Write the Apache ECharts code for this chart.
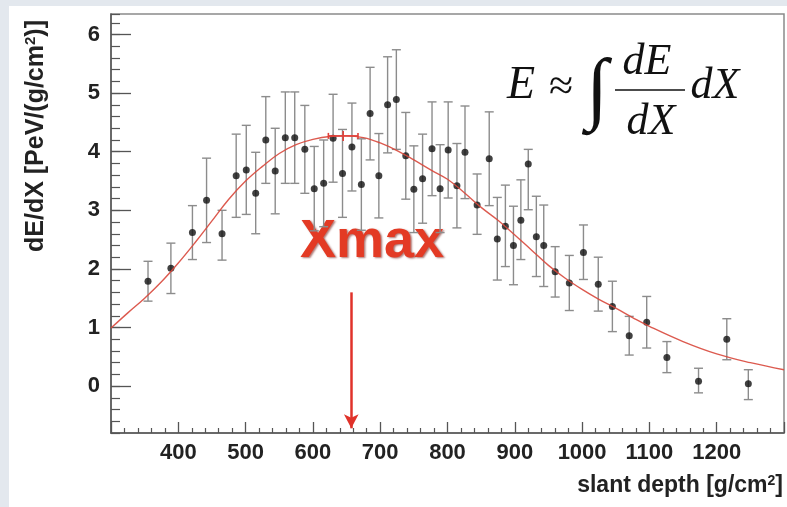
<!DOCTYPE html>
<html>
<head>
<meta charset="utf-8">
<script src="https://cdn.jsdelivr.net/npm/echarts@6/dist/echarts.min.js"></script>
<style>
  html, body { margin: 0; padding: 0; background: #ffffff; }
  #chart { width: 787px; height: 507px; }
</style>
</head>
<body>
<div id="chart"></div>
<script>
// Measured energy deposit profile of an air shower
const depth = [355, 389, 421, 442, 465, 486, 501, 515, 530, 544, 559, 573, 588, 602, 616, 630, 644, 658, 672, 685,
               698, 711, 724, 738, 750, 763, 777, 789, 801, 814, 826, 844, 862, 874, 886, 898, 909, 920, 932, 943,
               960, 981, 1002, 1024, 1045, 1070, 1096, 1126, 1173, 1215, 1247];
const dEdX  = [1.79, 2.01, 2.62, 3.17, 2.60, 3.59, 3.69, 3.29, 4.20, 3.67, 4.24, 4.24, 4.04, 3.37, 3.46, 4.23, 3.63, 4.08, 3.44, 4.65,
               3.59, 4.80, 4.89, 3.93, 3.36, 3.54, 4.05, 3.37, 4.03, 3.42, 3.99, 3.09, 3.88, 2.51, 2.73, 2.40, 2.83, 3.79, 2.55, 2.40,
               1.95, 1.76, 2.28, 1.74, 1.36, 0.86, 1.09, 0.49, 0.085, 0.80, 0.04];
const errUp   = [0.34, 0.43, 0.46, 0.72, 0.40, 0.71, 0.76, 0.70, 0.74, 0.73, 0.78, 0.78, 0.75, 0.72, 0.74, 0.75, 0.75, 0.75, 0.78, 0.79,
                 0.72, 0.82, 0.85, 0.74, 0.74, 0.76, 0.80, 0.75, 0.82, 0.72, 0.79, 0.53, 0.80, 0.71, 0.70, 0.67, 0.69, 0.25, 0.69, 0.69,
                 0.43, 0.47, 0.47, 0.46, 0.43, 0.33, 0.44, 0.27, 0.22, 0.35, 0.24];
const errDown = [0.34, 0.43, 0.46, 0.72, 0.45, 0.71, 0.76, 0.69, 0.74, 0.73, 0.78, 0.78, 0.75, 0.72, 0.74, 0.75, 0.75, 0.75, 0.78, 0.79,
                 0.72, 0.82, 0.85, 0.74, 0.74, 0.76, 0.80, 0.75, 0.82, 0.72, 0.79, 0.50, 0.80, 0.70, 0.69, 0.67, 0.67, 0.78, 0.68, 0.70,
                 0.43, 0.47, 0.46, 0.46, 0.43, 0.33, 0.44, 0.26, 0.20, 0.35, 0.27];

// Fitted profile, sampled along depth
const fitDepth = [300, 325, 350, 375, 400, 425, 450, 475, 500, 525, 550, 575, 600, 625, 650, 675, 700, 725, 750, 775,
                  800, 825, 850, 875, 900, 925, 950, 975, 1000, 1025, 1050, 1075, 1100, 1150, 1200, 1250, 1300];
const fitValue = [0.99, 1.25, 1.50, 1.78, 2.10, 2.45, 2.82, 3.19, 3.50, 3.75, 3.97, 4.12, 4.21, 4.26, 4.27, 4.24, 4.15, 4.02, 3.86, 3.69,
                  3.53, 3.30, 3.05, 2.83, 2.58, 2.32, 2.06, 1.84, 1.65, 1.48, 1.33, 1.17, 1.02, 0.76, 0.55, 0.40, 0.28];

// Shower maximum from the fit
const xmaxDepth = 645;
const xmaxValue = 4.27;
const xmaxErr = 22;
const xmaxArrowDepth = 657;

const yTickLabels = [0, 1, 2, 3, 4, 5, 6];

const points = depth.map((d, i) => [d, dEdX[i]]);
const bars = depth.map((d, i) => [d, dEdX[i], dEdX[i] - errDown[i], dEdX[i] + errUp[i]]);
const fitLine = fitDepth.map((d, i) => [d, fitValue[i]]);

const labelFont = 'Liberation Sans, Arial, sans-serif';
const mathFont = 'Liberation Serif, Times New Roman, serif';
const axisColor = '#555';
const frameBg = '#e3e8ee';

function renderErrorBar(params, api) {
  const x = api.value(0);
  const top = api.coord([x, api.value(3)]);
  const bot = api.coord([x, api.value(2)]);
  const cap = 4.5;
  const style = { stroke: '#8c8c8c', lineWidth: 1.4 };
  return {
    type: 'group',
    children: [
      { type: 'line', shape: { x1: top[0], y1: top[1], x2: bot[0], y2: bot[1] }, style },
      { type: 'line', shape: { x1: top[0] - cap, y1: top[1], x2: top[0] + cap, y2: top[1] }, style },
      { type: 'line', shape: { x1: bot[0] - cap, y1: bot[1], x2: bot[0] + cap, y2: bot[1] }, style }
    ]
  };
}

function renderXmax(params, api) {
  const c = api.coord([api.value(0), api.value(1)]);
  const l = api.coord([api.value(0) - api.value(2), api.value(1)]);
  const r = api.coord([api.value(0) + api.value(2), api.value(1)]);
  const style = { stroke: '#e0413a', lineWidth: 1.6 };
  return {
    type: 'group',
    children: [
      { type: 'line', shape: { x1: l[0], y1: c[1], x2: r[0], y2: c[1] }, style },
      { type: 'line', shape: { x1: l[0], y1: c[1] - 3, x2: l[0], y2: c[1] + 3 }, style },
      { type: 'line', shape: { x1: r[0], y1: c[1] - 3, x2: r[0], y2: c[1] + 3 }, style },
      { type: 'line', shape: { x1: c[0], y1: c[1] - 5, x2: c[0], y2: c[1] + 5 }, style }
    ]
  };
}

const chart = echarts.init(document.getElementById('chart'), null, { renderer: 'canvas' });

chart.setOption({
  animation: false,
  backgroundColor: '#ffffff',
  grid: {
    left: 111, top: 14, width: 673, height: 419,
    show: true, backgroundColor: '#ffffff', borderColor: '#8a8a8a', borderWidth: 1.5
  },
  xAxis: {
    type: 'value', min: 300, max: 1300, interval: 100,
    axisLine: { show: true, onZero: false, lineStyle: { color: axisColor, width: 1.5 } },
    axisTick: { show: true, inside: true, length: 11, lineStyle: { color: axisColor, width: 1.3 } },
    minorTick: { show: true, splitNumber: 5, length: 5, lineStyle: { color: axisColor, width: 1.2 } },
    axisLabel: {
      showMinLabel: false, showMaxLabel: false, margin: 9,
      formatter: (v) => String(v),
      fontFamily: labelFont, fontWeight: 'bold', fontSize: 22, color: '#222'
    },
    splitLine: { show: false }
  },
  yAxis: [
    {
      type: 'value', min: -0.8, max: 6.35, position: 'left',
      axisLine: { show: true, onZero: false, lineStyle: { color: axisColor, width: 1.5 } },
      axisTick: { show: true, inside: true, length: 20, customValues: yTickLabels, lineStyle: { color: axisColor, width: 1.3 } },
      axisLabel: {
        customValues: yTickLabels, margin: 11,
        fontFamily: labelFont, fontWeight: 'bold', fontSize: 22, color: '#222'
      },
      splitLine: { show: false }
    },
    {
      type: 'value', min: -0.8, max: 6.35, interval: 0.2, position: 'left',
      axisLine: { show: false },
      axisTick: { show: true, inside: true, length: 9, lineStyle: { color: axisColor, width: 1.2 } },
      axisLabel: { show: false },
      splitLine: { show: false }
    }
  ],
  graphic: [
    // surrounding page margins
    { type: 'rect', shape: { x: 0, y: 0, width: 9, height: 507 }, style: { fill: frameBg }, z: -10, silent: true },
    { type: 'rect', shape: { x: 0, y: 0, width: 787, height: 6 }, style: { fill: frameBg }, z: -10, silent: true },
    {
      type: 'text', x: 36, y: 136, rotation: Math.PI / 2,
      style: {
        text: '{a|dE/dX [PeV/(g/cm}{s|2}{a|)]}',
        align: 'center', verticalAlign: 'middle',
        rich: {
          a: { fontFamily: labelFont, fontWeight: 'bold', fontSize: 25, fill: '#222' },
          s: { fontFamily: labelFont, fontWeight: 'bold', fontSize: 15, fill: '#222', verticalAlign: 'top', padding: [0, 0, 10, 0] }
        }
      }
    },
    {
      type: 'text', x: 783, y: 486,
      style: {
        text: '{a|slant depth [g/cm}{s|2}{a|]}',
        align: 'right', verticalAlign: 'middle',
        rich: {
          a: { fontFamily: labelFont, fontWeight: 'bold', fontSize: 23, fill: '#222' },
          s: { fontFamily: labelFont, fontWeight: 'bold', fontSize: 14, fill: '#222', verticalAlign: 'top', padding: [0, 0, 10, 0] }
        }
      }
    },
    {
      type: 'text', x: 300, y: 242,
      style: {
        text: 'Xmax', align: 'left', verticalAlign: 'middle',
        fontFamily: labelFont, fontWeight: 'bold', fontSize: 54, fill: '#e33a24',
        textShadowColor: 'rgba(110,10,0,0.55)', textShadowBlur: 2, textShadowOffsetX: 1.5, textShadowOffsetY: 1.5
      }
    },
    // E ≈ ∫ dE/dX dX
    {
      type: 'text', x: 507, y: 86,
      style: { text: 'E', align: 'left', verticalAlign: 'middle', fontFamily: mathFont, fontStyle: 'italic', fontSize: 46, fill: '#111' }
    },
    {
      type: 'text', x: 561, y: 88,
      style: { text: '≈', align: 'center', verticalAlign: 'middle', fontFamily: mathFont, fontSize: 44, fill: '#111' }
    },
    {
      type: 'text', x: 597, y: 93,
      style: { text: '∫', align: 'center', verticalAlign: 'middle', fontFamily: mathFont, fontSize: 80, fill: '#111' }
    },
    {
      type: 'text', x: 647, y: 62,
      style: { text: 'dE', align: 'center', verticalAlign: 'middle', fontFamily: mathFont, fontStyle: 'italic', fontSize: 44, fill: '#111' }
    },
    {
      type: 'line', shape: { x1: 615, y1: 90, x2: 685, y2: 90 },
      style: { stroke: '#111', lineWidth: 1.6 }
    },
    {
      type: 'text', x: 651, y: 122,
      style: { text: 'dX', align: 'center', verticalAlign: 'middle', fontFamily: mathFont, fontStyle: 'italic', fontSize: 44, fill: '#111' }
    },
    {
      type: 'text', x: 715, y: 86,
      style: { text: 'dX', align: 'center', verticalAlign: 'middle', fontFamily: mathFont, fontStyle: 'italic', fontSize: 44, fill: '#111' }
    }
  ],
  series: [
    {
      name: 'error', type: 'custom', renderItem: renderErrorBar, data: bars,
      encode: { x: 0, y: [1, 2, 3] }, z: 2, silent: true
    },
    {
      name: 'dE/dX', type: 'scatter', data: points, symbol: 'circle', symbolSize: 7,
      itemStyle: { color: '#111' }, z: 3, silent: true
    },
    {
      name: 'fit', type: 'line', data: fitLine, smooth: 0.4, showSymbol: false,
      lineStyle: { color: '#d8483c', width: 1.4, opacity: 0.9 }, z: 4, silent: true,
      markLine: {
        silent: true, symbol: ['none', 'arrow'], symbolSize: [11, 14],
        label: { show: false },
        lineStyle: { color: '#e0322a', width: 2.5, type: 'solid' },
        data: [[{ coord: [xmaxArrowDepth, 1.6] }, { coord: [xmaxArrowDepth, -0.72] }]]
      }
    },
    {
      name: 'Xmax', type: 'custom', renderItem: renderXmax,
      data: [[xmaxDepth, xmaxValue, xmaxErr]], encode: { x: 0, y: 1 }, z: 5, silent: true
    }
  ]
});
</script>
</body>
</html>
